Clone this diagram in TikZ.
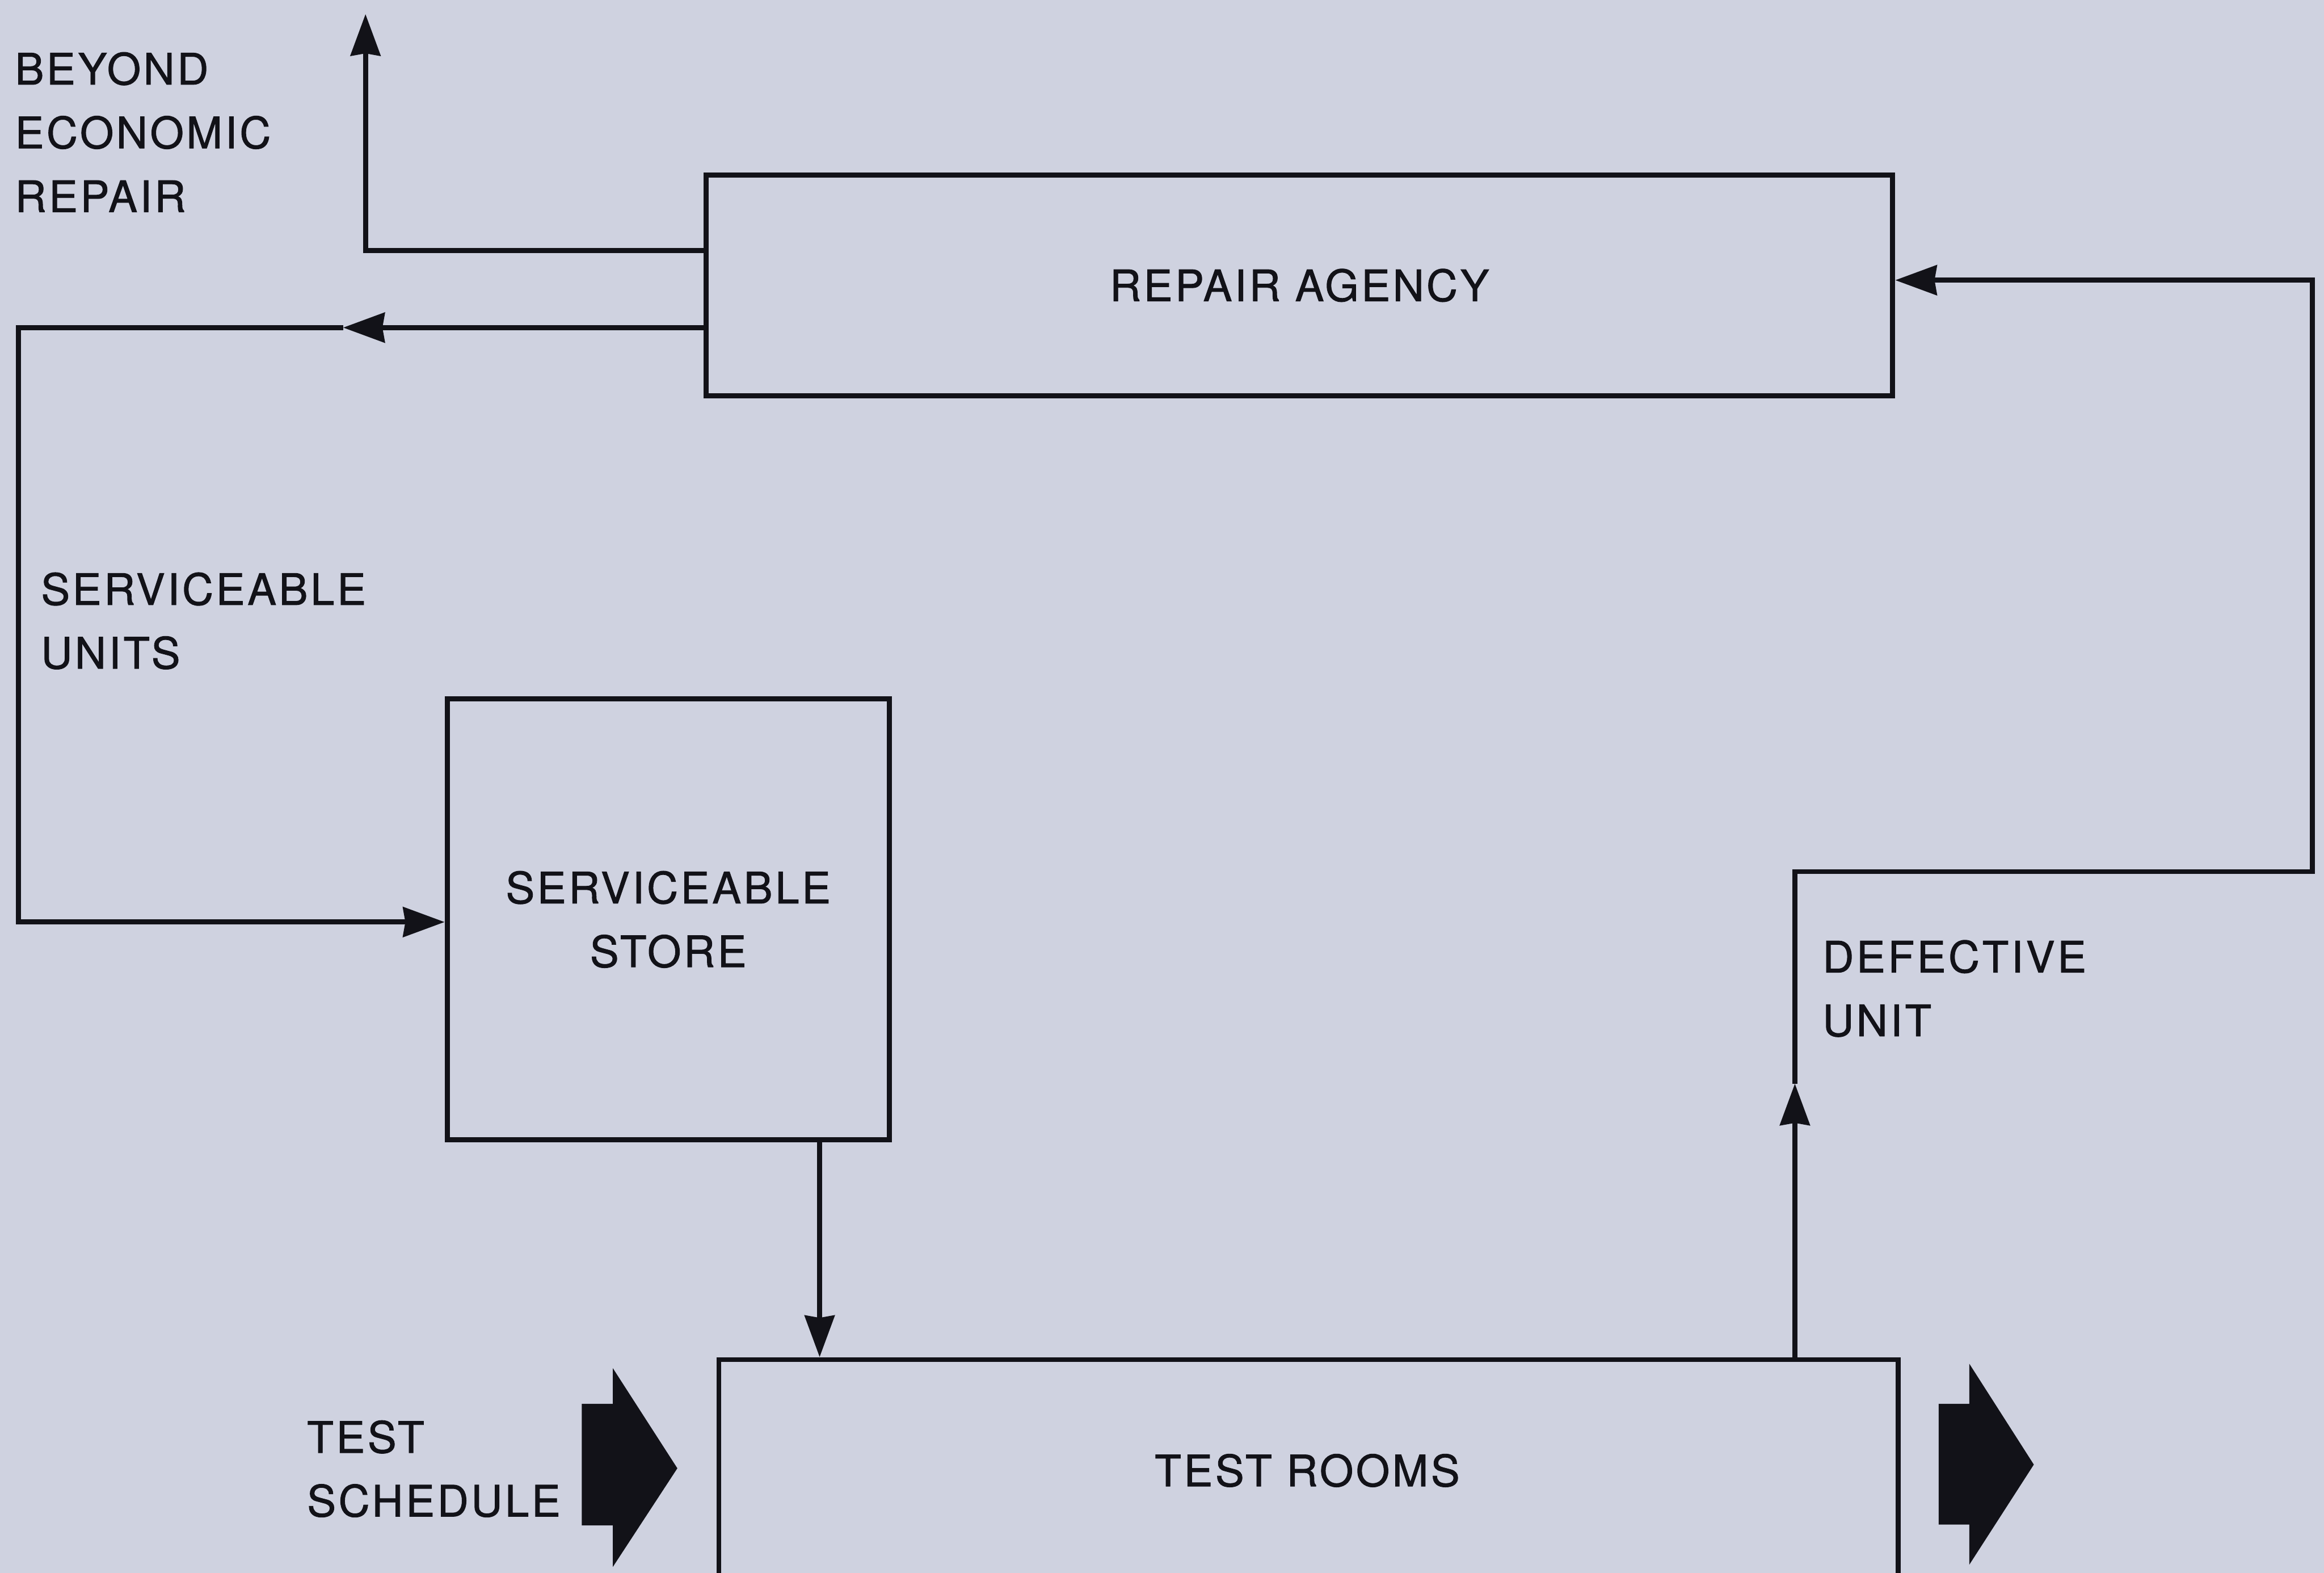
\documentclass[tikz,border=0pt]{standalone}
\usepackage{fontspec}
\setmainfont{TeX Gyre Heros}[LetterSpace=6,FakeBold=1.2]
\usetikzlibrary{arrows.meta}
\definecolor{bg}{RGB}{207,210,224}
\definecolor{ink}{RGB}{18,18,24}
\begin{document}
\begin{tikzpicture}[x=1pt,y=-1pt,
  every node/.style={text=ink, font=\fontsize{29.2pt}{43pt}\selectfont},
  box/.style={draw=ink, line width=3.4pt, inner sep=0pt},
  conn/.style={draw=ink, line width=3.4pt},
  arr/.style={-{Stealth[length=28pt,width=20pt,inset=1.5pt]}},
  lbl/.style={anchor=north west, inner sep=0pt, align=left},
  blockarrow/.style={fill=ink}]
\useasboundingbox (0,0) rectangle (1568,1061);
\fill[bg] (0,0) rectangle (1568,1061);
\begin{scope}
\clip (0,0) rectangle (1568,1061);

% boxes
\node[box, minimum width=800.5pt, minimum height=149pt] (repair) at (876.75,192.5) {REPAIR AGENCY};
\node[box, minimum width=298.3pt, minimum height=297.5pt, align=center] (store) at (450.85,620.25) {SERVICEABLE\\STORE};
\node[box, minimum width=795.6pt, minimum height=200pt, anchor=north] (test) at (882.8,915.5) {};
\node (testtxt) at (882,992) {TEST ROOMS};

% labels
\node[lbl] (ber) at (10,35) {BEYOND\\ECONOMIC\\REPAIR};
\node[lbl] (su) at (27.5,386) {SERVICEABLE\\UNITS};
\node[lbl] (du) at (1229.5,634) {DEFECTIVE\\UNIT};
\node[lbl] (ts) at (207,958) {TEST\\SCHEDULE};

% coordinates
\coordinate (bertip) at (246.6,9.5);
\coordinate (sumid) at (231.5,221);
\coordinate (sucorner) at (12.5,622);
\coordinate (defmid) at (1211,731);
\coordinate (dc1) at (1211,588);
\coordinate (dc2) at (1560,588);
\coordinate (dc3) at (1560,189);

% connectors
\draw[conn, arr] (repair.west |- 0,169) -| (bertip);
\draw[conn, arr] (repair.west |- sumid) -- (sumid);
\draw[conn, arr] (sumid) -| (sucorner) -- (store.west |- sucorner);
\draw[conn, arr] (store.south -| 553,0) -- (test.north -| 553,0);
\draw[conn, arr] (test.north -| defmid) -- (defmid);
\draw[conn, arr] (defmid) -- (dc1) -- (dc2) -- (dc3) -- (repair.east |- dc3);

% block arrows
\fill[blockarrow] (392.5,947) -- (413.5,947) -- (413.5,923) -- (457,990.5) -- (413.5,1057) -- (413.5,1029) -- (392.5,1029) -- cycle;
\fill[blockarrow] (1308,947) -- (1328.7,947) -- (1328.7,920) -- (1372.2,988) -- (1328.7,1055.5) -- (1328.7,1028.5) -- (1308,1028.5) -- cycle;
\end{scope}
\end{tikzpicture}
\end{document}
